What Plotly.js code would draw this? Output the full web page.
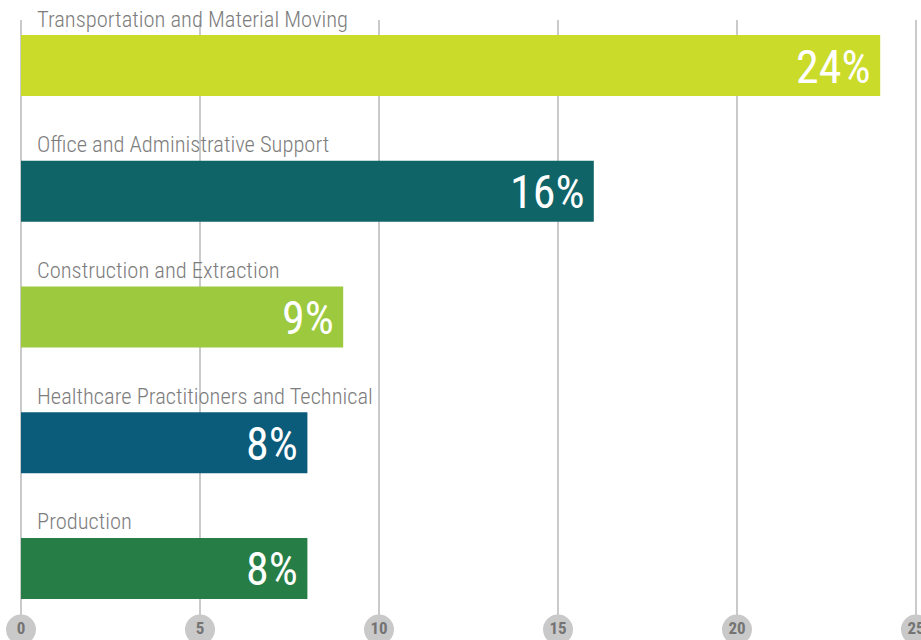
<!DOCTYPE html>
<html>
<head>
<meta charset="utf-8">
<script src="https://cdn.plot.ly/plotly-3.0.1.min.js"></script>
<style>html,body{margin:0;padding:0;background:#fff;}#chart{width:921px;height:640px;}</style>
</head>
<body>
<div id="chart"></div>
<script>
const categories = [
  "Transportation and Material Moving",
  "Office and Administrative Support",
  "Construction and Extraction",
  "Healthcare Practitioners and Technical",
  "Production"
];
const values = [24, 16, 9, 8, 8];
const valueLabels = ["24%", "16%", "9%", "8%", "8%"];
const barColors = ["#cbdb2a", "#0f6468", "#9cc93e", "#0b5b7a", "#267e46"];
const tickValues = [0, 5, 10, 15, 20, 25];
const tickLabels = ["0", "5", "10", "15", "20", "25"];

const narrow = '"Roboto Condensed", "Liberation Sans Narrow", "DejaVu Sans Condensed", sans-serif';

const bars = {
  type: 'bar',
  orientation: 'h',
  x: values,
  y: categories,
  marker: {color: barColors},
  width: 0.485,
  hoverinfo: 'none'
};

const ticks = {
  type: 'scatter',
  mode: 'markers+text',
  x: tickValues,
  y: tickValues.map(() => 0.0169),
  yaxis: 'y2',
  text: tickLabels,
  textposition: 'middle center',
  textfont: {family: narrow, size: 17, color: '#747474', weight: 700},
  marker: {symbol: 'circle', size: 30, color: '#c9c9c9', line: {width: 0}},
  cliponaxis: false,
  hoverinfo: 'none'
};

const annotations = [];
categories.forEach((c, i) => {
  annotations.push({
    x: 0, y: c, xref: 'x', yref: 'y',
    text: c, showarrow: false,
    xanchor: 'left', yanchor: 'middle',
    xshift: 14, yshift: 47,
    font: {family: narrow, size: 22.5, color: '#7d7d7d', weight: 300}
  });
  annotations.push({
    x: values[i], y: c, xref: 'x', yref: 'y',
    text: valueLabels[i], showarrow: false,
    xanchor: 'right', yanchor: 'middle',
    xshift: -7, yshift: -1,
    font: {family: narrow, size: 46, color: '#ffffff'}
  });
});

const layout = {
  width: 921, height: 640,
  margin: {l: 21, r: 2, t: 20, b: 0, pad: 0},
  paper_bgcolor: '#ffffff',
  plot_bgcolor: '#ffffff',
  showlegend: false,
  xaxis: {
    range: [0, 25.084],
    tickvals: tickValues,
    showticklabels: false,
    ticks: '',
    showgrid: true, gridcolor: '#cacaca', gridwidth: 2,
    zeroline: true, zerolinecolor: '#cacaca', zerolinewidth: 2,
    showline: false, fixedrange: true
  },
  yaxis: {
    type: 'category',
    categoryarray: categories,
    range: [4.569, -0.362],
    showticklabels: false, ticks: '',
    showgrid: false, zeroline: false, showline: false, fixedrange: true
  },
  yaxis2: {
    overlaying: 'y', anchor: 'x',
    range: [0, 1],
    visible: false, fixedrange: true
  },
  annotations: annotations
};

Plotly.newPlot('chart', [bars, ticks], layout, {displayModeBar: false, staticPlot: true});
</script>
</body>
</html>
